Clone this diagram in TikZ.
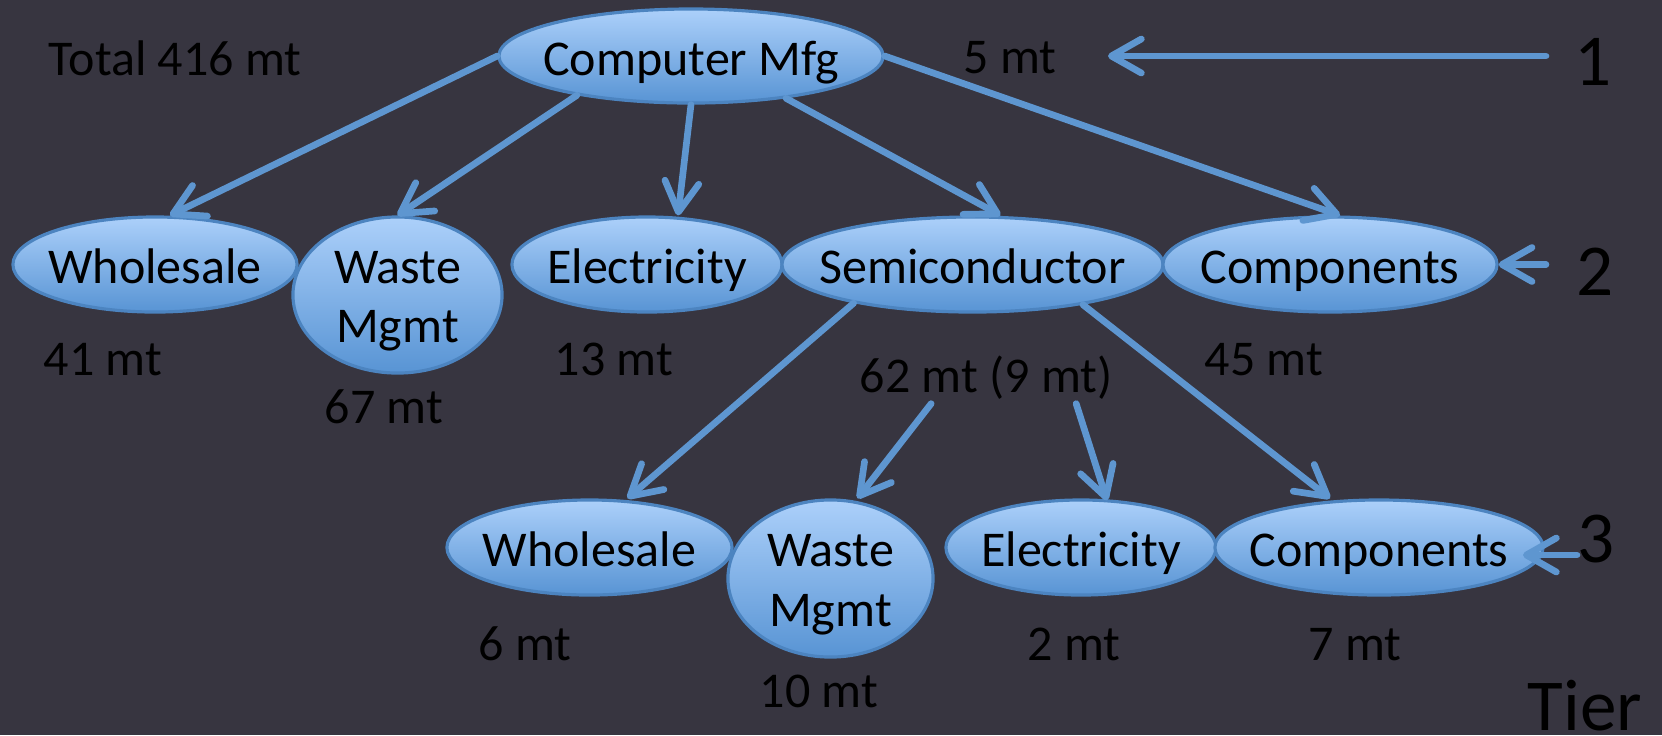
\documentclass[tikz,border=0pt]{standalone}
\usepackage{fontspec}
\setmainfont{Carlito}
\usetikzlibrary{shapes.geometric,arrows.meta,calc}
\definecolor{bgcol}{RGB}{55,53,64}
\definecolor{elltop}{RGB}{172,208,250}
\definecolor{ellbot}{RGB}{88,148,212}
\definecolor{ellline}{RGB}{76,132,192}
\definecolor{arrcol}{RGB}{94,150,208}
\begin{document}
\begin{tikzpicture}[x=0.01cm,y=-0.01cm,
  ellbox/.style={ellipse, draw=ellline, line width=0.9pt, top color=elltop, bottom color=ellbot, inner sep=0pt},
  nodetxt/.style={anchor=base, inner sep=0pt, font=\fontsize{14.23pt}{17pt}\selectfont, text=black},
  valtxt/.style={anchor=base west, inner sep=0pt, font=\fontsize{14.23pt}{17pt}\selectfont, text=black},
  tiertxt/.style={anchor=base west, inner sep=0pt, font=\fontsize{20.8pt}{24pt}\selectfont, text=black},
  flow/.style={draw=arrcol, line width=1.9pt, line cap=round, -{Straight Barb[length=0.3cm,width=0.34cm,round]}}
]
\fill[bgcol] (0,0) rectangle (1662,735);
\useasboundingbox (0,0) rectangle (1662,735);

% tier 1
\node[ellbox, minimum width=3.84cm, minimum height=0.94cm] (cm) at (691,56) {};
\node[nodetxt, yshift=-0.19cm] (cmt) at (cm) {Computer Mfg};

% tier 2
\node[ellbox, minimum width=2.84cm, minimum height=0.95cm] (w2) at (155,264.5) {};
\node[nodetxt, yshift=-0.19cm] (w2t) at (w2) {Wholesale};
\node[ellbox, minimum width=2.09cm, minimum height=1.56cm] (m2) at (397.5,295) {};
\node[nodetxt, yshift=0.12cm] (m2a) at (m2) {Waste};
\node[nodetxt, yshift=-0.47cm] (m2b) at (m2) {Mgmt};
\node[ellbox, minimum width=2.70cm, minimum height=0.95cm] (e2) at (647,264.5) {};
\node[nodetxt, yshift=-0.19cm] (e2t) at (e2) {Electricity};
\node[ellbox, minimum width=3.81cm, minimum height=0.95cm] (s2) at (972.5,264.5) {};
\node[nodetxt, yshift=-0.19cm] (s2t) at (s2) {Semiconductor};
\node[ellbox, minimum width=3.34cm, minimum height=0.95cm] (c2) at (1330,264.5) {};
\node[nodetxt, yshift=-0.19cm] (c2t) at (c2) {Components};

% tier 3
\node[ellbox, minimum width=2.85cm, minimum height=0.95cm] (w3) at (589.5,547.5) {};
\node[nodetxt, yshift=-0.19cm] (w3t) at (w3) {Wholesale};
\node[ellbox, minimum width=2.05cm, minimum height=1.57cm] (m3) at (830.5,578.5) {};
\node[nodetxt, yshift=0.12cm] (m3a) at (m3) {Waste};
\node[nodetxt, yshift=-0.48cm] (m3b) at (m3) {Mgmt};
\node[ellbox, minimum width=2.70cm, minimum height=0.95cm] (e3) at (1081,547.5) {};
\node[nodetxt, yshift=-0.19cm] (e3t) at (e3) {Electricity};
\node[ellbox, minimum width=3.28cm, minimum height=0.95cm] (c3) at (1379,547.5) {};
\node[nodetxt, yshift=-0.19cm] (c3t) at (c3) {Components};

% values
\node[valtxt] (vtot) at (48,75) {Total 416 mt};
\node[valtxt] (v5) at (963,73) {5 mt};
\node[valtxt] (v41) at (43,375) {41 mt};
\node[valtxt] (v67) at (324,423) {67 mt};
\node[valtxt] (v13) at (554,375) {13 mt};
\node[valtxt] (v62) at (859,392) {62 mt (9 mt)};
\node[valtxt] (v45) at (1204,375) {45 mt};
\node[valtxt] (v6) at (478,660) {6 mt};
\node[valtxt] (v10) at (759,707) {10 mt};
\node[valtxt] (v2) at (1027,660) {2 mt};
\node[valtxt] (v7) at (1308,660) {7 mt};

% tier labels
\node[tiertxt] (t1) at (1574,85) {1};
\node[tiertxt] (t2) at (1576,295) {2};
\node[tiertxt] (t3) at (1577,562) {3};
\node[tiertxt] (tier) at (1527,730) {Tier};

\coordinate (a1s) at (1546,56);
\coordinate (a1e) at (1108,56);
\coordinate (a2s) at (1546,264.5);
\coordinate (a3s) at (1577,555);
\coordinate (a3e) at (1523,555);

% connectors
\draw[flow] (cm.west) -- ($(w2.north)+(15,0)$);
\draw[flow] (cm.199) -- (m2.north);
\draw[flow] (cm.south) -- ($(e2.north)+(31,0)$);
\draw[flow] (cm.336) -- ($(s2.north)+(28,0)$);
\draw[flow] (cm.east) -- ($(c2.north)+(10,0)$);
\draw[flow] (s2.198) -- ($(w3.north)+(38,0)$);
\draw[flow] ($(v62.south)+(-55,4)$) -- ($(m3.north)+(27,0)$);
\draw[flow] ($(v62.south)+(90,4)$) -- ($(e3.north)+(26,2)$);
\draw[flow] (s2.340) -- ($(c3.north)+(-49,0)$);
\draw[flow] (a1s) -- (a1e);
\draw[flow] (a2s) -- (c2.east);
\draw[flow] (a3s) -- (a3e);
\end{tikzpicture}
\end{document}
